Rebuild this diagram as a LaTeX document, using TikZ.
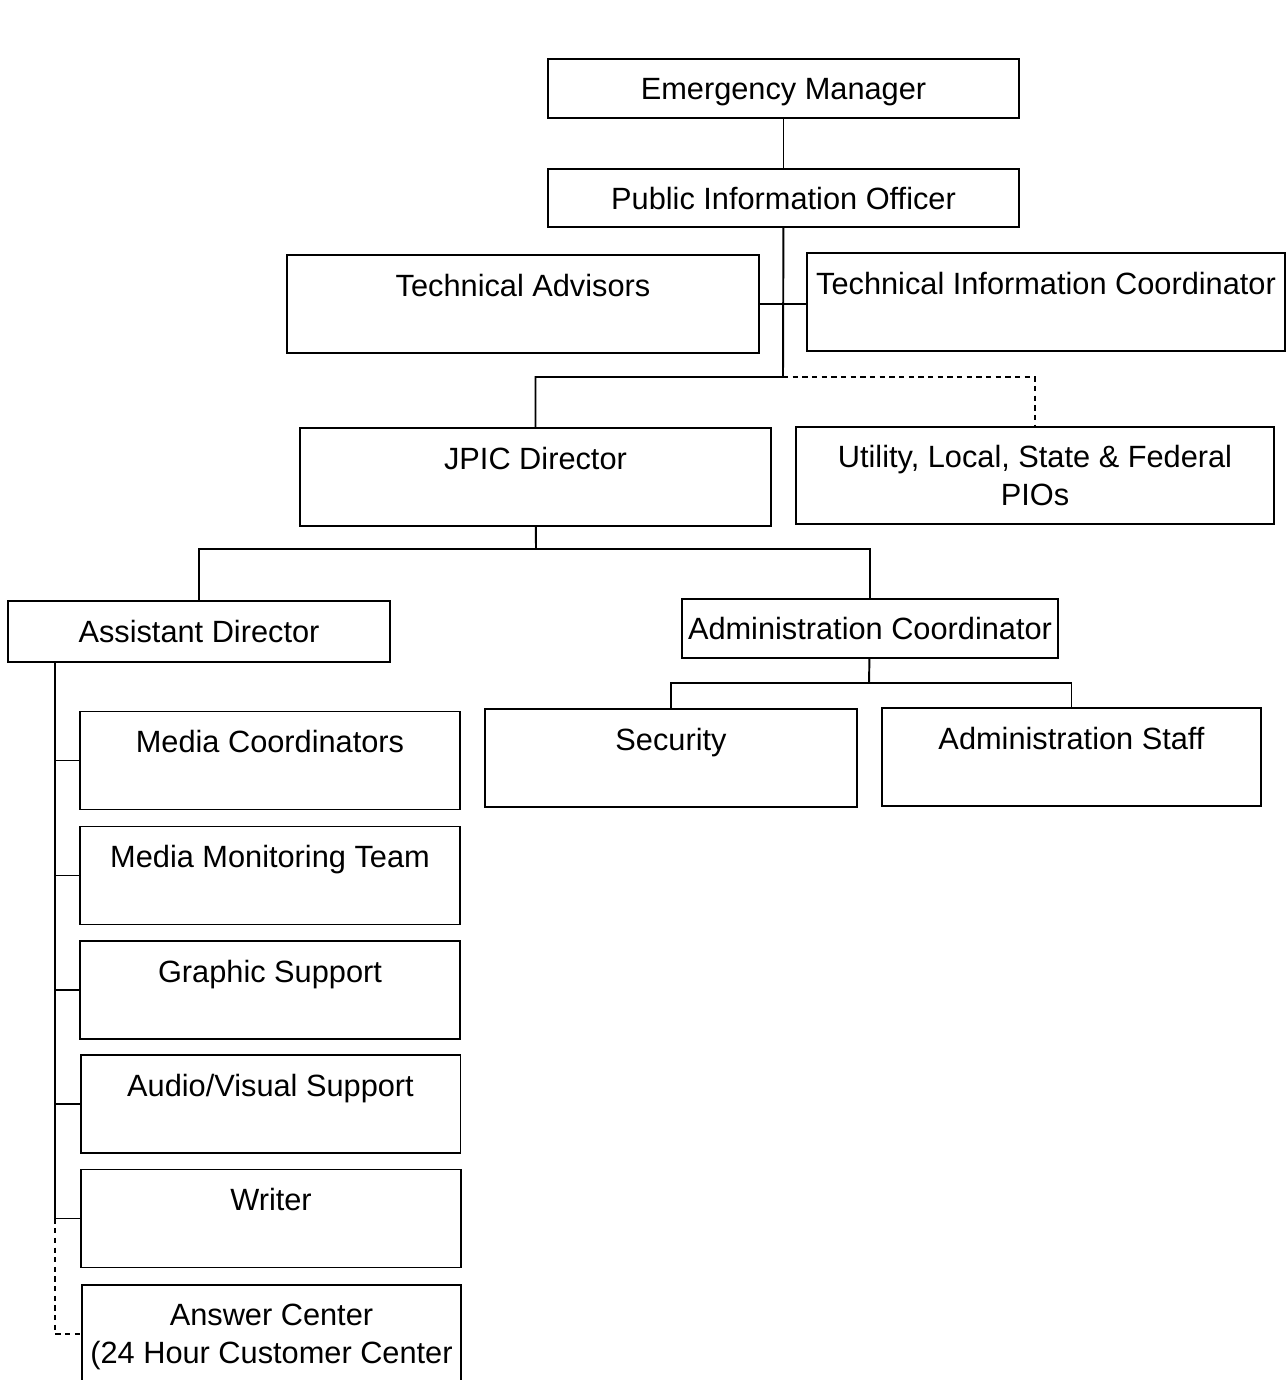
\documentclass[tikz,border=0pt]{standalone}
\usepackage{fontspec}
\setmainfont{Liberation Sans}
\usetikzlibrary{positioning,calc}

\begin{document}
\begin{tikzpicture}[
    x=0.02cm, y=-0.02cm,
    unit/.style={draw=black, rectangle, line width=1.1pt, inner sep=0pt, align=center,
        font=\fontsize{17.5}{21.6}\selectfont, text depth=0pt, minimum height=1.18cm},
    tallunit/.style={unit, minimum height=1.96cm},
    link/.style={line width=1.1pt},
    dotlink/.style={line width=1.1pt, dash pattern=on 3pt off 2.5pt}
]
\useasboundingbox (0,0) rectangle (1288,1380);
\clip (0,0) rectangle (1288,1380);

% Top of the chain
\node[unit, minimum width=9.42cm] (em) at (783.5, 88.5) {Emergency Manager};
\node[unit, minimum width=9.42cm, minimum height=1.16cm] (pio) at (783.5, 198) {Public Information Officer};

\node[tallunit, minimum width=9.44cm] (ta) at (523, 304) {Technical Advisors\\\mbox{}};
\node[tallunit, minimum width=9.56cm] (tic) at (1046, 302) {Technical Information Coordinator\\\mbox{}};

\node[tallunit, minimum width=9.42cm] (jpic) at (535.5, 477) {JPIC Director\\\mbox{}};
\node[tallunit, minimum width=9.56cm, minimum height=1.94cm] (util) at (1035, 475.5) {Utility, Local, State \& Federal\\PIOs};

% Second level
\node[unit, minimum width=7.64cm, minimum height=1.22cm] (ad) at (199, 631.5) {Assistant Director};
\node[unit, minimum width=7.52cm] (ac) at (870, 628.5) {Administration Coordinator};

\node[tallunit, minimum width=7.44cm] (sec) at (671, 758) {Security\\\mbox{}};
\node[tallunit, minimum width=7.58cm] (staff) at (1071.5, 757) {Administration Staff\\\mbox{}};

% Assistant Director team
\node[tallunit, minimum width=7.6cm] (mc) at (270, 760.5) {Media Coordinators\\\mbox{}};
\node[tallunit, minimum width=7.6cm] (mmt) at (270, 875.5) {Media Monitoring Team\\\mbox{}};
\node[tallunit, minimum width=7.6cm] (gs) at (270, 990) {Graphic Support\\\mbox{}};
\node[tallunit, minimum width=7.6cm] (avs) at (270.5, 1104) {Audio/Visual Support\\\mbox{}};
\node[tallunit, minimum width=7.6cm] (wr) at (271, 1218.5) {Writer\\\mbox{}};
\node[tallunit, minimum width=7.58cm] (ans) at (271.5, 1334) {Answer Center\\(24 Hour Customer Center};

% Junction points
\coordinate (psplit) at (783, 377);
\coordinate (jsplit) at (536, 549);
\coordinate (asplit) at (869, 683);
\coordinate (spine) at (55, 662);

% Lines of authority
\draw[link] (em) -- (pio);
\draw[link] (pio) -- (psplit) -| (jpic);
\draw[link] (ta.east) -- (ta.east -| tic.west);
\draw[dotlink] (psplit) -| (util);

\draw[link] (jpic) -- (jsplit);
\draw[link] (ad) |- (jsplit) -| (ac);

\draw[link] (ac) -- (asplit);
\draw[link] (sec) |- (asplit) -| (staff);

\foreach \n in {mc, mmt, gs, avs, wr}
    \draw[link] (spine) |- (\n.west);
\draw[dotlink] (spine |- wr.west) |- (ans.west);

\end{tikzpicture}
\end{document}
